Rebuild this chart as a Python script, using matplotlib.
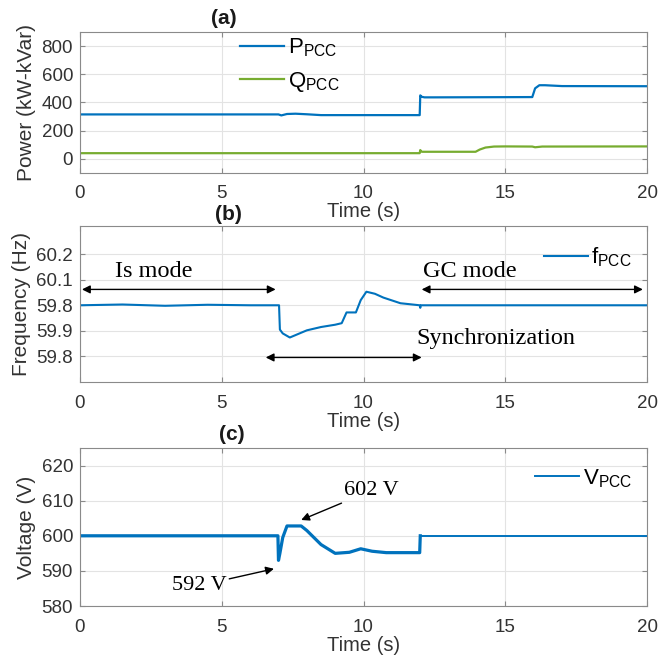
""" PCC power / frequency / voltage during islanded -> grid-connected transition """
import numpy as np
import matplotlib.pyplot as plt

plt.rcParams['font.family'] = ['Liberation Sans', 'DejaVu Sans']
plt.rcParams['mathtext.fontset'] = 'custom'
plt.rcParams['mathtext.rm'] = 'Liberation Sans'

# (a) active / reactive power at PCC
t_p = [0, 7.0, 7.1, 7.3, 7.6, 8.0, 8.5, 9.0, 11.98, 12.0, 12.05, 12.15, 12.5,
       15.95, 16.05, 16.2, 16.4, 17.0, 20]
p_pcc = [315, 315, 308, 318, 320, 316, 310, 310, 310, 450, 440, 436, 436,
         438, 500, 522, 522, 516, 515]
t_q = [0, 11.98, 12.0, 12.05, 12.1, 13.95, 14.1, 14.3, 14.6, 15.0, 15.95,
       16.05, 16.3, 20]
q_pcc = [40, 40, 62, 50, 50, 50, 66, 80, 87, 88, 87, 82, 87, 88]

# (b) frequency at PCC
t_f = [0, 1.5, 3.0, 4.5, 6.0, 7.02, 7.05, 7.15, 7.4, 7.7, 8.0, 8.5, 9.0,
       9.23, 9.4, 9.73, 9.9, 10.1, 10.4, 10.7, 11.3, 11.98, 12.0, 12.02, 20]
f_pcc = [60.0, 60.003, 59.998, 60.002, 60.0, 60.0, 59.905, 59.89, 59.874,
         59.888, 59.902, 59.915, 59.924, 59.93, 59.972, 59.972, 60.02, 60.053,
         60.045, 60.03, 60.008, 60.0, 59.99, 60.0, 60.0]

# (c) voltage at PCC
t_v = [0, 6.98, 7.0, 7.05, 7.15, 7.3, 7.8, 8.0, 8.5, 9.0, 9.5, 9.9, 10.3,
       10.8, 11.98, 12.0, 20]
v_pcc = [600, 600, 593, 595, 599.5, 602.8, 602.8, 601.5, 597.5, 595, 595.3,
         596.3, 595.6, 595.2, 595.2, 600, 600]

blue = '#0072BD'
green = '#77AC30'
serif = ['Liberation Serif', 'DejaVu Serif']


def style(ax, ylim, yticks):
    ax.set_xlim(0, 20)
    ax.set_ylim(*ylim)
    ax.set_xticks([0, 5, 10, 15, 20])
    ax.set_yticks(yticks)
    ax.grid(True, color='#e3e3e3', lw=0.8)
    ax.set_axisbelow(True)
    for s in ax.spines.values():
        s.set_color('#8a8a8a')
    ax.tick_params(direction='in', top=True, right=True, length=3.5,
                   color='#8a8a8a', labelcolor='#333333', labelsize=13.5)
    ax.tick_params(axis='x', pad=9)
    ax.tick_params(axis='y', pad=5)
    ax.set_xlabel('Time (s)', fontsize=14.5, color='#333333', labelpad=0)


def legend(ax, x, y, spacing=0.47):
    ax.legend(loc='upper left', bbox_to_anchor=(x, y), frameon=False,
              fontsize=16, handlelength=2.0, handletextpad=0.15,
              labelspacing=spacing, borderpad=0, borderaxespad=0)


fig = plt.figure(figsize=(6.61, 6.60), dpi=100)
ax1 = fig.add_axes([0.121, 0.738, 0.858, 0.2136])
ax2 = fig.add_axes([0.121, 0.4212, 0.858, 0.2364])
ax3 = fig.add_axes([0.121, 0.0818, 0.858, 0.2394])

# (a)
ax1.plot(t_p, p_pcc, color=blue, lw=1.6, label=r'P$_{\mathregular{PCC}}$')
ax1.plot(t_q, q_pcc, color=green, lw=1.6, label=r'Q$_{\mathregular{PCC}}$')
style(ax1, (-100, 900), [0, 200, 400, 600, 800])
ax1.set_ylabel('Power (kW-kVar)', fontsize=15, color='#333333', labelpad=4)
legend(ax1, 0.282, 0.965)

# (b)
ax2.plot(t_f, f_pcc, color=blue, lw=1.5, label=r'f$_{\mathregular{PCC}}$')
style(ax2, (59.7, 60.31), [59.8, 59.9, 60.0, 60.1, 60.2])
ax2.set_yticklabels(['59.8', '59.9', '59.8', '60.1', '60.2'])
ax2.set_ylabel('Frequency (Hz)', fontsize=15, color='#333333', labelpad=4)
legend(ax2, 0.8175, 0.875)
arr = dict(arrowstyle='<|-|>', color='black', lw=1.0, shrinkA=0, shrinkB=0,
           mutation_scale=12)
ax2.annotate('', xy=(0.07, 60.062), xytext=(6.9, 60.062), arrowprops=arr)
ax2.annotate('', xy=(12.05, 60.062), xytext=(19.85, 60.062), arrowprops=arr)
ax2.annotate('', xy=(6.55, 59.796), xytext=(12.05, 59.796), arrowprops=arr)
ax2.text(2.6, 60.134, 'Is mode', family=serif, fontsize=17.5, ha='center', va='center')
ax2.text(13.75, 60.134, 'GC mode', family=serif, fontsize=17.5, ha='center', va='center')
ax2.text(14.65, 59.872, 'Synchronization', family=serif, fontsize=17.5,
         ha='center', va='center')

# (c)
ax3.plot(t_v[:-1], v_pcc[:-1], color=blue, lw=2.3, solid_joinstyle='round')
ax3.plot(t_v[-2:], v_pcc[-2:], color=blue, lw=1.4, label=r'V$_{\mathregular{PCC}}$')
style(ax3, (580, 625), [580, 590, 600, 610, 620])
ax3.set_ylabel('Voltage (V)', fontsize=15, color='#333333', labelpad=4)
legend(ax3, 0.802, 0.88)
head = dict(arrowstyle='-|>', color='black', lw=1.0, shrinkA=0, shrinkB=0,
            mutation_scale=12)
ax3.annotate('602 V', xy=(7.8, 604.5), xytext=(10.26, 612.8), family=serif,
             fontsize=16, ha='center', va='center', arrowprops=head)
ax3.annotate('592 V', xy=(6.84, 590.6), xytext=(4.2, 585.8), family=serif,
             fontsize=16, ha='center', va='center', arrowprops=head)

for lbl, x, y in [('(a)', 224, 18), ('(b)', 228, 214), ('(c)', 232, 435)]:
    fig.text(x / 661, 1 - y / 660, lbl, fontsize=15, fontweight='bold',
             ha='center', va='center', color='#1a1a1a')

fig.savefig('out.png', dpi=100)
